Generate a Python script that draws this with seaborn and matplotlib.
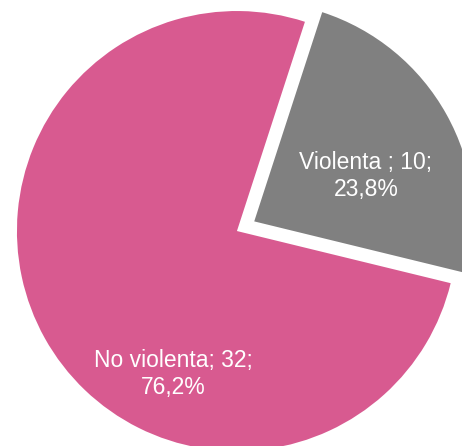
import matplotlib
matplotlib.use("Agg")
import matplotlib.pyplot as plt
import seaborn as sns

sns.set_theme(style="white")
plt.rcParams['font.family'] = ['Liberation Sans', 'DejaVu Sans']

categorias = ['Violenta ', 'No violenta']
valores = [10, 32]
colores = ['#808080', '#D85A90']

total = sum(valores)
etiquetas = []
for c, v in zip(categorias, valores):
    pct = f"{v / total * 100:.1f}".replace('.', ',')
    etiquetas.append(f"{c}; {v};\n{pct}%")

fig = plt.figure(figsize=(4.62, 4.46), dpi=100)
ax = fig.add_axes([0, 0, 1, 1])
wedges, _ = ax.pie(valores, colors=colores, startangle=72, counterclock=False,
                   explode=[0.09, 0], radius=1.0,
                   wedgeprops=dict(linewidth=0))
ax.set_xlim(-1.077, 1.023)
ax.set_ylim(-0.977, 1.05)
ax.set_aspect('equal')
ax.axis('off')

# posiciones de las etiquetas
pos = [(0.586, 0.25), (-0.29, -0.65)]
for (x, y), t in zip(pos, etiquetas):
    ax.text(x, y, t, ha='center', va='center', color='white', fontsize=16.5,
            linespacing=1.2)

fig.savefig('out.png', dpi=100)
